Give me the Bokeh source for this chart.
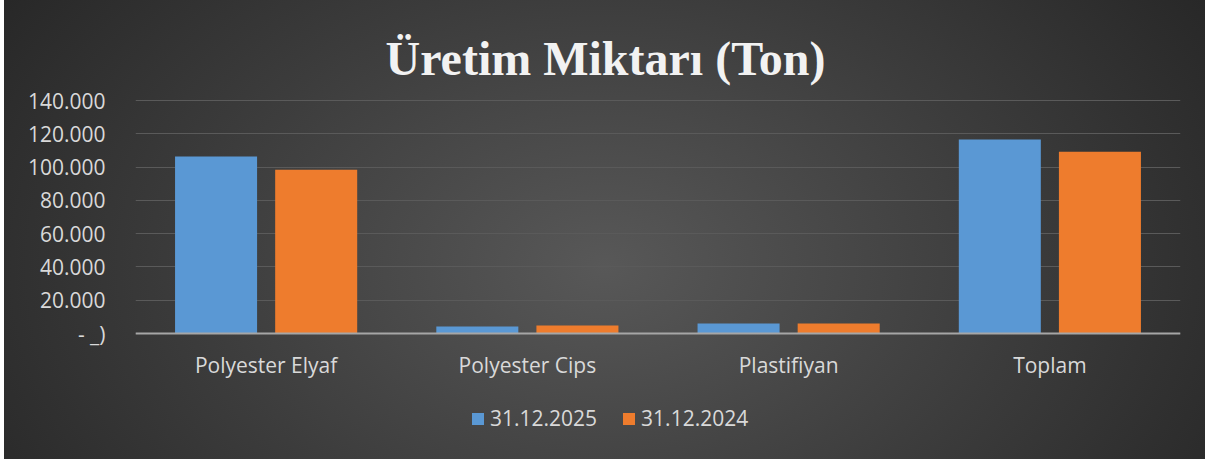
from bokeh.plotting import figure
from bokeh.models import (FactorRange, Range1d, FixedTicker, Legend, LegendItem,
                          Label, ColumnDataSource)
from bokeh.transform import dodge
from bokeh.embed import file_html
from bokeh.resources import INLINE

categories = ["Polyester Elyaf", "Polyester Cips", "Plastifiyan", "Toplam"]
series_names = ["31.12.2025", "31.12.2024"]
values_2025 = [106400, 4200, 6000, 116600]
values_2024 = [98400, 4800, 6000, 109200]
y_ticks = [0, 20000, 40000, 60000, 80000, 100000, 120000, 140000]
y_tick_labels = ["- _)", "20.000", "40.000", "60.000", "80.000", "100.000", "120.000", "140.000"]
title_text = "Üretim Miktarı (Ton)"

BLUE = "#5a98d4"
ORANGE = "#ee7c2d"
LABEL = "#d9d9d9"
FONT = "Open Sans"

src = ColumnDataSource(dict(cat=categories, v25=values_2025, v24=values_2024))

# the frame spans the whole chart height (title and legend sit inside it);
# 140.000 lies 100px below the top, 0 lies 333px below the top
y_max_tick = 140000
y_top = y_max_tick * 333 / 233
y_bottom = -y_max_tick * 126 / 233

p = figure(x_range=FactorRange(*categories), y_range=Range1d(y_bottom, y_top),
           width=1201, height=459, output_backend="svg", toolbar_location=None,
           min_border_left=131, min_border_right=25, min_border_top=0,
           min_border_bottom=0)
p.margin = (0, 0, 0, 4)
p.title.text = ""
p.title.visible = False

p.styles = {"background": "radial-gradient(ellipse 62% 110% at 50% 58%, #585858 0%, #3c3c3c 55%, #262626 100%)"}
p.border_fill_alpha = 0
p.background_fill_alpha = 0
p.outline_line_color = None

r1 = p.vbar(x=dodge("cat", -0.1916, range=p.x_range), top="v25", width=0.314,
            source=src, fill_color=BLUE, line_color=None)
r2 = p.vbar(x=dodge("cat", 0.1916, range=p.x_range), top="v24", width=0.314,
            source=src, fill_color=ORANGE, line_color=None)

title = Label(x=250, y=401, x_units="screen", y_units="screen", text=title_text,
              text_font="Liberation Serif", text_font_size="48px",
              text_font_style="bold", text_color="#f2f2f2",
              text_align="left", text_baseline="alphabetic")
p.add_layout(title)

p.xgrid.grid_line_color = None
p.ygrid.grid_line_color = "#5a5a5a"
p.ygrid.grid_line_width = 1
p.yaxis.ticker = FixedTicker(ticks=y_ticks)
p.ygrid.ticker = FixedTicker(ticks=y_ticks)
p.yaxis.major_label_overrides = {t: l for t, l in zip(y_ticks, y_tick_labels)}
p.yaxis.axis_line_color = None
p.yaxis.major_tick_line_color = None
p.yaxis.minor_tick_line_color = None
p.yaxis.major_label_standoff = 24
p.yaxis.major_label_text_font = FONT
p.yaxis.major_label_text_font_size = "21px"
p.yaxis.major_label_text_color = LABEL

p.xaxis.fixed_location = 0
p.xaxis.axis_line_color = "#a6a6a6"
p.xaxis.axis_line_width = 2
p.xaxis.major_tick_line_color = None
p.xaxis.minor_tick_line_color = None
p.xaxis.major_label_standoff = 11
p.xaxis.major_label_text_font = FONT
p.xaxis.major_label_text_font_size = "21px"
p.xaxis.major_label_text_color = LABEL

legend = Legend(items=[LegendItem(label=series_names[0], renderers=[r1]),
                       LegendItem(label=series_names[1], renderers=[r2])],
                orientation="horizontal", location=(329, 21),
                label_text_font=FONT, label_text_font_size="21px",
                label_text_color=LABEL, background_fill_alpha=0,
                border_line_alpha=0, glyph_width=15, glyph_height=15,
                label_standoff=5, spacing=24, padding=6, margin=0)
p.add_layout(legend)

open("out.html", "w").write(file_html(p, INLINE))
